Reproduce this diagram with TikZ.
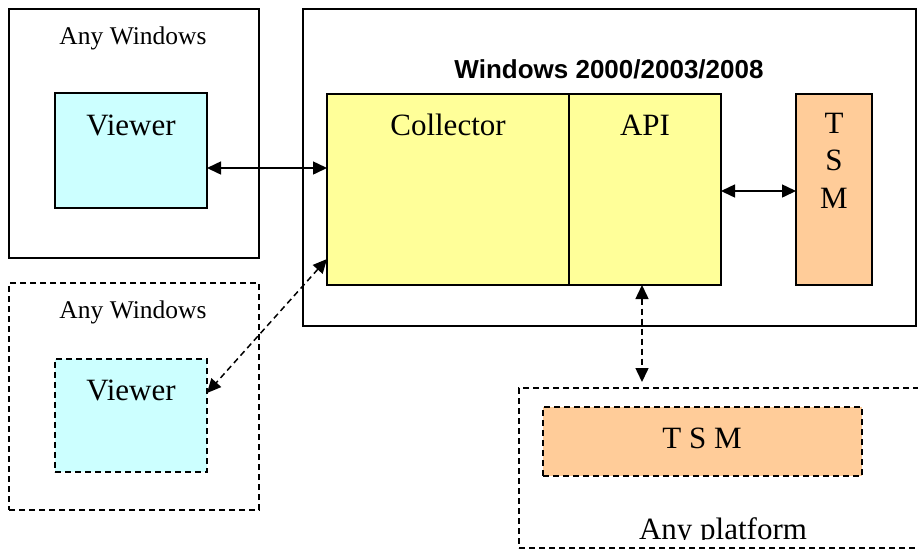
\documentclass[tikz,border=0pt]{standalone}
\usepackage{fontspec}
\setmainfont{Liberation Serif}
\newfontfamily\arialfont{Liberation Sans}
\usetikzlibrary{arrows.meta}
\definecolor{vcyan}{HTML}{CCFFFF}
\definecolor{cyel}{HTML}{FFFF99}
\definecolor{corg}{HTML}{FFCC99}
\tikzset{
  box/.style={draw=black, line width=1.8pt, rectangle, inner sep=0pt, outer sep=0pt, anchor=north west},
  dbox/.style={box, dash pattern=on 6pt off 4pt},
  bigtxt/.style={font=\fontsize{31}{37}\selectfont, inner sep=0pt, anchor=base},
  midtxt/.style={font=\fontsize{25.5}{30}\selectfont, inner sep=0pt, anchor=base},
  boldtxt/.style={font=\arialfont\bfseries\fontsize{26}{30}\selectfont, inner sep=0pt, anchor=base},
  conn/.style={line width=1.5pt, {Triangle[length=14pt,width=13pt]}-{Triangle[length=14pt,width=13pt]}},
  dconn/.style={conn, dash pattern=on 6pt off 4pt}
}
\begin{document}
\begin{tikzpicture}[x=1pt,y=-1pt]
\useasboundingbox (0,0) rectangle (918,550);
\begin{scope}
\clip (0,0) rectangle (918,550);
% left windows boxes
\node[box, minimum width=250pt, minimum height=249pt] (win1) at (9,9) {};
\node[box, fill=vcyan, minimum width=152pt, minimum height=115pt] (view1) at (55,93) {};
\node[dbox, minimum width=250pt, minimum height=227pt] (win2) at (9,283) {};
\node[dbox, fill=vcyan, minimum width=152pt, minimum height=113pt] (view2) at (55,359) {};
% main box
\node[box, minimum width=613pt, minimum height=317pt] (main) at (303,9) {};
\node[box, fill=cyel, minimum width=242pt, minimum height=191pt] (coll) at (327,94) {};
\node[box, fill=cyel, minimum width=152pt, minimum height=191pt] (api) at (569,94) {};
\node[box, fill=corg, minimum width=76pt, minimum height=191pt] (tsm1) at (796,94) {};
% platform
\node[dbox, minimum width=420pt, minimum height=160pt] (plat) at (519,388) {};
\node[dbox, fill=corg, minimum width=319pt, minimum height=69pt] (tsm2) at (543,407) {};
\end{scope}
% texts
\node[midtxt] (tw1) at (133,44) {Any Windows};
\node[bigtxt] (tv1) at (131,135) {Viewer};
\node[midtxt] (tw2) at (133,318) {Any Windows};
\node[bigtxt] (tv2) at (131,400) {Viewer};
\node[boldtxt] (tmain) at (609,78) {Windows 2000/2003/2008};
\node[bigtxt] (tcoll) at (448,135) {Collector};
\node[bigtxt] (tapi) at (645,135) {API};
\node[bigtxt] (tT) at (834,133) {T};
\node[bigtxt] (tS) at (834,170.5) {S};
\node[bigtxt] (tM) at (834,208) {M};
\node[bigtxt] (ttsm2) at (702,448) {T S M};
\begin{scope}
\clip (519,380) rectangle (918,539);
\node[bigtxt] (tplat) at (723,539) {Any platform};
\end{scope}
% connectors
\coordinate (y1) at (0,168);
\coordinate (y2) at (0,191);
\coordinate (y3) at (0,259);
\coordinate (y4) at (0,393);
\coordinate (x5) at (642,0);
\draw[conn] (view1.east |- y1) -- (coll.west |- y1);
\draw[conn] (api.east |- y2) -- (tsm1.west |- y2);
\draw[dconn] (coll.west |- y3) -- (view2.east |- y4);
\draw[dconn, shorten >=6pt] (api.south -| x5) -- (plat.north -| x5);
\end{tikzpicture}
\end{document}
